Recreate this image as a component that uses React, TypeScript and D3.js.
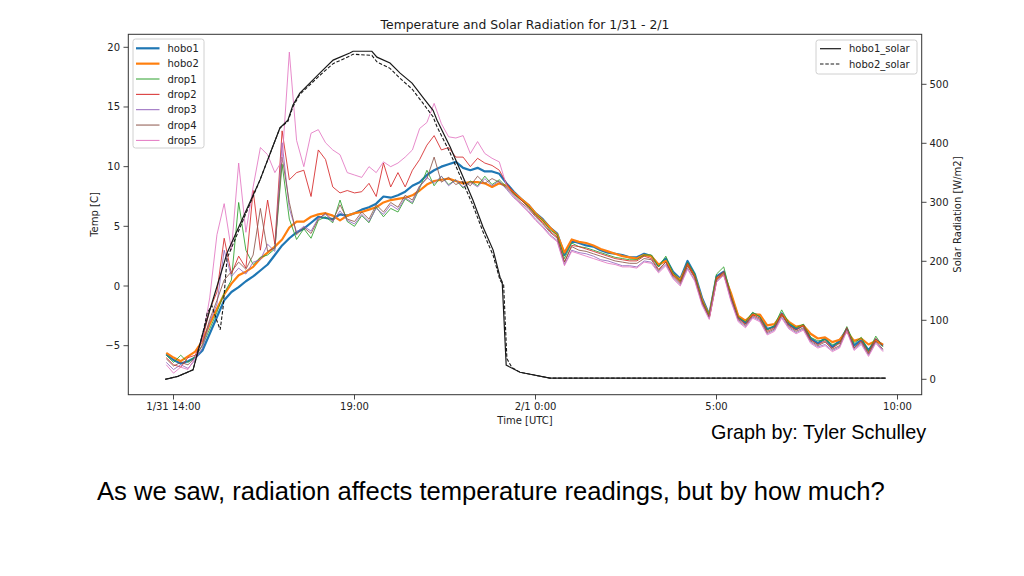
import React, { useEffect } from 'react';
import * as d3 from 'd3';

// ---- data ----
// sample times in hours since 1/31 00:00 UTC
const times = [
  13.8, 14.0, 14.2, 14.4, 14.6, 14.8, 15.0, 15.2, 15.4, 15.6, 15.8, 16.0, 16.2, 16.4, 16.6, 16.8, 17.0, 17.2, 17.4, 17.6,
  17.8, 18.0, 18.2, 18.4, 18.6, 18.8, 19.0, 19.2, 19.4, 19.6, 19.8, 20.0, 20.2, 20.4, 20.6, 20.8, 21.0, 21.2, 21.4, 21.6,
  21.8, 22.0, 22.2, 22.4, 22.6, 22.8, 23.0, 23.2, 23.4, 23.6, 23.8, 24.0, 24.2, 24.4, 24.6, 24.8, 25.0, 25.2, 25.4, 25.6,
  25.8, 26.0, 26.2, 26.4, 26.6, 26.8, 27.0, 27.2, 27.4, 27.6, 27.8, 28.0, 28.2, 28.4, 28.6, 28.8, 29.0, 29.2, 29.4, 29.6,
  29.8, 30.0, 30.2, 30.4, 30.6, 30.8, 31.0, 31.2, 31.4, 31.6, 31.8, 32.0, 32.2, 32.4, 32.6, 32.8, 33.0, 33.2, 33.4, 33.6,
];

const hobo1 = [
  -5.7, -6.2, -6.5, -6.3, -6.0, -5.4, -4.0, -2.6, -1.2, -0.5, -0.1, 0.4, 0.8, 1.3, 1.8, 2.6, 3.4, 4.0, 4.5, 4.8,
  5.3, 5.8, 5.7, 5.6, 6.0, 5.9, 6.1, 6.4, 6.6, 6.9, 7.5, 7.4, 7.6, 7.9, 8.4, 8.7, 9.3, 9.7, 10.0, 10.2,
  10.4, 9.9, 9.7, 9.9, 9.6, 9.6, 9.4, 8.6, 7.9, 7.3, 6.8, 6.1, 5.6, 4.9, 4.4, 2.6, 3.8, 3.6, 3.4, 3.3,
  3.0, 2.8, 2.7, 2.6, 2.4, 2.4, 2.7, 2.5, 1.7, 2.3, 1.2, 0.6, 2.1, 1.0, -1.0, -2.4, 0.8, 1.2, -0.8, -2.6,
  -3.1, -2.3, -2.5, -3.6, -3.4, -2.3, -3.2, -3.6, -3.3, -4.4, -4.8, -4.4, -5.1, -4.6, -3.6, -5.0, -4.5, -5.4, -4.5, -5.0,
];

const hobo2 = [
  -5.6, -6.0, -6.3, -5.9, -5.5, -4.6, -3.2, -1.9, -0.7, 0.2, 0.9, 1.2, 1.6, 2.3, 2.8, 3.3, 3.9, 4.9, 5.4, 5.4,
  5.8, 6.0, 6.1, 5.9, 5.5, 5.9, 6.1, 6.2, 6.4, 6.6, 7.0, 7.2, 7.3, 7.4, 7.6, 8.0, 8.5, 8.8, 8.9, 9.0,
  8.8, 8.6, 8.7, 8.7, 8.6, 8.3, 8.6, 8.4, 7.8, 7.3, 6.8, 6.1, 5.5, 4.9, 4.3, 2.8, 3.9, 3.7, 3.6, 3.4,
  3.1, 2.9, 2.7, 2.5, 2.4, 2.3, 2.6, 2.5, 1.8, 2.1, 1.0, 0.5, 1.8, 0.8, -1.2, -2.5, 0.6, 1.0, -0.6, -2.5,
  -2.9, -2.4, -2.4, -3.3, -3.2, -2.4, -3.0, -3.4, -3.3, -4.0, -4.4, -4.3, -4.7, -4.5, -3.8, -4.6, -4.4, -4.9, -4.6, -4.9,
];

const drop1 = [
  -5.8, -6.4, -5.8, -6.4, -5.9, -5.0, -3.6, -2.2, -0.6, 0.5, 7.0, 3.0, 1.8, 2.4, 2.6, 3.1, 10.2, 5.6, 3.9, 4.8,
  4.0, 5.5, 5.8, 5.3, 7.2, 5.4, 5.0, 5.9, 5.3, 6.6, 5.8, 6.5, 6.2, 7.3, 6.9, 8.2, 9.7, 8.4, 9.2, 8.5,
  8.9, 8.2, 8.8, 8.4, 9.2, 8.5, 8.9, 8.3, 7.7, 7.2, 6.7, 6.0, 5.5, 4.7, 4.3, 2.3, 3.6, 3.3, 3.2, 3.0,
  2.8, 2.6, 2.4, 2.3, 2.2, 2.2, 2.6, 2.6, 1.6, 2.5, 1.1, 0.4, 2.0, 1.0, -1.2, -2.4, 1.0, 1.6, -0.8, -2.6,
  -3.0, -2.2, -2.6, -3.7, -3.3, -2.0, -3.1, -3.5, -3.2, -4.3, -4.6, -4.5, -4.9, -4.8, -3.4, -4.8, -4.3, -5.5, -4.2, -5.1,
];

const drop2 = [
  -6.0, -6.6, -6.8, -6.0, -5.8, -4.5, -2.0, -0.5, 4.0, 1.0, 2.5, 1.5, 8.0, 3.0, 7.2, 3.5, 13.0, 8.9, 9.5, 9.7,
  7.5, 11.4, 10.6, 8.3, 7.8, 8.0, 7.8, 7.9, 8.6, 7.5, 10.3, 8.3, 9.5, 8.3, 9.7, 10.6, 11.8, 12.6, 11.4, 11.6,
  10.8, 10.8, 10.0, 10.7, 10.3, 10.1, 9.7, 8.6, 7.8, 7.2, 6.6, 5.9, 5.3, 4.6, 4.1, 2.0, 3.4, 3.3, 3.1, 2.9,
  2.7, 2.5, 2.3, 2.2, 2.1, 2.1, 2.5, 2.3, 1.4, 2.0, 0.9, 0.3, 1.9, 0.8, -1.3, -2.6, 0.7, 1.2, -0.9, -2.7,
  -3.2, -2.4, -2.7, -3.8, -3.5, -2.3, -3.3, -3.7, -3.3, -4.5, -4.9, -4.6, -5.2, -4.8, -3.5, -5.2, -4.6, -5.6, -4.4, -5.0,
];

const drop3 = [
  -6.4, -7.0, -6.6, -6.9, -6.2, -5.2, -3.0, -1.5, 3.0, 0.8, 1.5, 1.0, 2.0, 2.2, 3.5, 2.9, 12.0, 6.5, 4.5, 5.0,
  4.6, 5.7, 6.0, 5.4, 6.3, 5.5, 5.2, 6.0, 5.4, 6.5, 6.0, 6.8, 6.4, 7.4, 7.0, 8.3, 9.1, 8.6, 9.2, 8.4,
  8.9, 8.3, 8.7, 8.3, 9.0, 8.4, 8.8, 8.1, 7.4, 6.9, 6.3, 5.6, 5.0, 4.3, 3.8, 1.8, 3.0, 2.8, 2.7, 2.5,
  2.2, 2.1, 1.9, 1.7, 1.7, 1.6, 2.1, 2.0, 1.2, 1.8, 0.7, 0.1, 1.5, 0.5, -1.5, -2.7, 0.4, 1.0, -1.2, -2.9,
  -3.4, -2.6, -2.9, -4.0, -3.7, -2.6, -3.5, -3.9, -3.6, -4.7, -5.1, -4.9, -5.4, -5.1, -3.7, -5.3, -4.8, -5.8, -4.7, -5.4,
];

const drop4 = [
  -6.1, -6.7, -6.4, -6.6, -6.0, -4.9, -2.8, -1.2, 0.5, 1.2, 2.0, 1.4, 2.6, 6.5, 2.9, 3.2, 10.8, 7.0, 4.3, 4.9,
  4.4, 5.6, 6.1, 5.5, 6.8, 5.6, 5.4, 6.2, 5.6, 6.8, 6.2, 7.0, 6.6, 7.6, 7.2, 8.4, 9.0, 10.8, 8.7, 9.1,
  8.5, 8.8, 8.4, 9.2, 8.6, 9.0, 8.7, 8.2, 7.6, 7.0, 6.5, 5.8, 5.2, 4.5, 4.0, 2.0, 3.3, 3.0, 2.9, 2.7,
  2.5, 2.3, 2.1, 2.0, 1.9, 1.9, 2.3, 2.2, 1.3, 2.0, 0.8, 0.2, 1.7, 0.7, -1.4, -2.6, 0.5, 1.2, -1.0, -2.8,
  -3.3, -2.5, -2.8, -3.9, -3.6, -2.4, -3.4, -3.8, -3.5, -4.6, -5.0, -4.7, -5.3, -5.0, -3.5, -5.2, -4.7, -5.7, -4.6, -5.3,
];

const drop5 = [
  -6.6, -7.3, -6.8, -7.0, -6.0, -4.5, -1.0, 4.3, 6.9, 3.0, 10.3, 4.5, 8.3, 11.6, 11.0, 9.5, 10.5, 19.6, 12.2, 10.0,
  12.8, 13.1, 12.0, 11.4, 11.0, 9.5, 9.3, 9.1, 10.0, 9.5, 10.4, 10.0, 10.3, 10.8, 11.4, 13.2, 13.7, 15.3, 13.6, 12.5,
  12.4, 12.6, 11.1, 12.1, 11.1, 10.7, 10.4, 8.4, 7.5, 6.8, 6.2, 5.5, 4.9, 4.2, 3.7, 1.7, 2.9, 2.7, 2.5, 2.3,
  2.1, 1.9, 1.8, 1.6, 1.6, 1.5, 2.0, 1.9, 1.1, 1.7, 0.6, 0.0, 1.4, 0.4, -1.6, -2.8, 0.3, 0.9, -1.3, -3.0,
  -3.5, -2.7, -3.0, -4.1, -3.8, -2.7, -3.6, -4.0, -3.7, -4.8, -5.2, -5.0, -5.5, -5.2, -3.8, -5.4, -4.9, -5.9, -4.8, -5.5,
];

const solarTimes1 = [
  13.77, 14.12, 14.54, 14.81, 15.48, 16.39, 16.94, 17.16, 17.3, 17.49, 18.04, 18.41, 18.87, 18.96, 19.48, 19.62,
  19.98, 20.26, 20.59, 20.89, 21.17, 21.28, 21.64, 22.0, 22.27, 22.55, 22.83, 23.02, 23.08, 23.19, 23.57, 24.4, 33.68,
];
const hobo1Solar = [
  0, 5, 16, 78, 214, 338, 426, 439, 465, 485, 519, 541, 553, 556, 556, 546,
  536, 519, 502, 478, 456, 439, 394, 343, 304, 258, 219, 173, 165, 24, 12, 2, 2,
];

const solarTimes2 = [
  13.77, 14.12, 14.54, 14.81, 14.93, 15.06, 15.17, 15.29, 15.37, 15.48, 16.39, 16.94, 17.16, 17.3, 17.49, 18.04,
  18.41, 18.87, 18.96, 19.48, 19.62, 19.98, 20.26, 20.59, 20.89, 21.17, 21.28, 21.64, 22.0, 22.27, 22.55, 22.83,
  23.02, 23.12, 23.21, 23.35, 23.57, 24.4, 33.68,
];
const hobo2Solar = [
  0, 5, 16, 78, 112, 125, 104, 84, 122, 205, 338, 426, 437, 462, 483, 515,
  535, 548, 551, 549, 538, 527, 510, 492, 468, 445, 428, 384, 333, 295, 250, 210,
  168, 160, 35, 20, 12, 2, 2,
];

const seriesNames = ['hobo1', 'hobo2', 'drop1', 'drop2', 'drop3', 'drop4', 'drop5'];
const seriesValues = [hobo1, hobo2, drop1, drop2, drop3, drop4, drop5];
const seriesColors = ['#1f77b4', '#ff7f0e', '#2ca02c', '#d62728', '#9467bd', '#8c564b', '#e377c2'];
const seriesWidths = [2.2, 2.2, 1, 1, 1, 1, 1];

const xTickHours = [14, 19, 24, 29, 34];
const xTickLabels = ['1/31 14:00', '19:00', '2/1 0:00', '5:00', '10:00'];
const tempTicks = [-5, 0, 5, 10, 15, 20];
const solarTicks = [0, 100, 200, 300, 400, 500];

const TITLE = 'Temperature and Solar Radiation for 1/31 - 2/1';
const CAPTION = 'As we saw, radiation affects temperature readings, but by how much?';
const CREDIT = 'Graph by: Tyler Schulley';

// ---- layout ----
const W = 1024;
const H = 576;
const PL = 128.3;
const PR = 921.7;
const PT = 34.3;
const PB = 394.7;
const FONT = 'DejaVu Sans, sans-serif';
const SLIDE_FONT = 'Liberation Sans, Arial, sans-serif';

export default function App() {
  useEffect(() => {
    document.body.style.margin = '0';
  }, []);

  const x = d3.scaleLinear().domain([14, 34]).range([173.5, 897.5]);
  const yT = d3.scaleLinear().domain([0, 20]).range([286, 47.3]);
  const yS = d3.scaleLinear().domain([0, 500]).range([379.3, 84.3]);

  const tempLine = (vals: number[]) =>
    d3
      .line<number>()
      .x((_, i) => x(times[i]))
      .y((d) => yT(d))(vals) || '';

  const solarLine = (ts: number[], vals: number[]) =>
    d3
      .line<number>()
      .x((_, i) => x(ts[i]))
      .y((d) => yS(d))(vals) || '';

  const tick = 4.8;

  return (
    <svg width={W} height={H} style={{ position: 'absolute', left: 0, top: 0, background: '#fff' }}>
      <rect x={0} y={0} width={W} height={H} fill="#fff" />
      <defs>
        <clipPath id="plotclip">
          <rect x={PL} y={PT} width={PR - PL} height={PB - PT} />
        </clipPath>
      </defs>

      {/* title */}
      <text x={(PL + PR) / 2} y={29} textAnchor="middle" fontFamily={FONT} fontSize={12.4} fill="#1a1a1a">
        {TITLE}
      </text>

      {/* temperature lines */}
      <g clipPath="url(#plotclip)">
        {seriesValues.map((vals, k) => (
          <path
            key={seriesNames[k]}
            d={tempLine(vals)}
            fill="none"
            stroke={seriesColors[k]}
            strokeWidth={seriesWidths[k]}
            strokeOpacity={k < 2 ? 1 : 0.85}
            strokeLinejoin="round"
          />
        ))}
        {/* solar lines */}
        <path d={solarLine(solarTimes1, hobo1Solar)} fill="none" stroke="#1a1a1a" strokeWidth={1.2} />
        <path
          d={solarLine(solarTimes2, hobo2Solar)}
          fill="none"
          stroke="#1a1a1a"
          strokeWidth={1.1}
          strokeDasharray="3.5,1.8"
        />
      </g>

      {/* frame */}
      <rect x={PL} y={PT} width={PR - PL} height={PB - PT} fill="none" stroke="#333" strokeWidth={1} />

      {/* left axis */}
      {tempTicks.map((t) => (
        <g key={'t' + t}>
          <line x1={PL - tick} x2={PL} y1={yT(t)} y2={yT(t)} stroke="#333" strokeWidth={0.9} />
          <text x={PL - tick - 3.5} y={yT(t)} dy="0.35em" textAnchor="end" fontFamily={FONT} fontSize={10} fill="#222">
            {t < 0 ? '\u2212' + Math.abs(t) : String(t)}
          </text>
        </g>
      ))}
      <text
        transform={`translate(97.5, ${(PT + PB) / 2}) rotate(-90)`}
        textAnchor="middle"
        fontFamily={FONT}
        fontSize={10}
        fill="#222"
      >
        Temp [C]
      </text>

      {/* right axis */}
      {solarTicks.map((s) => (
        <g key={'s' + s}>
          <line x1={PR} x2={PR + tick} y1={yS(s)} y2={yS(s)} stroke="#333" strokeWidth={0.9} />
          <text x={PR + tick + 3} y={yS(s)} dy="0.35em" textAnchor="start" fontFamily={FONT} fontSize={10} fill="#222">
            {s}
          </text>
        </g>
      ))}
      <text
        transform={`translate(961, ${(PT + PB) / 2}) rotate(-90)`}
        textAnchor="middle"
        fontFamily={FONT}
        fontSize={10}
        fill="#222"
      >
        Solar Radiation [W/m2]
      </text>

      {/* bottom axis */}
      {xTickHours.map((h, i) => (
        <g key={'x' + h}>
          <line x1={x(h)} x2={x(h)} y1={PB} y2={PB + tick} stroke="#333" strokeWidth={0.9} />
          <text x={x(h)} y={410} textAnchor="middle" fontFamily={FONT} fontSize={10} fill="#222">
            {xTickLabels[i]}
          </text>
        </g>
      ))}
      <text x={(PL + PR) / 2} y={424} textAnchor="middle" fontFamily={FONT} fontSize={10} fill="#222">
        Time [UTC]
      </text>

      {/* left legend */}
      <rect x={133} y={39} width={71} height={109} rx={2.5} fill="#fff" fillOpacity={0.85} stroke="#d0d0d0" strokeWidth={1} />
      {seriesNames.map((n, k) => {
        const ly = 48.3 + k * 15.35;
        return (
          <g key={'lg' + n}>
            <line x1={136} x2={159.5} y1={ly} y2={ly} stroke={seriesColors[k]} strokeWidth={seriesWidths[k]} />
            <text x={167.5} y={ly} dy="0.35em" fontFamily={FONT} fontSize={10} fill="#222">
              {n}
            </text>
          </g>
        );
      })}

      {/* right legend */}
      <rect x={816} y={40} width={101} height={34} rx={2.5} fill="#fff" fillOpacity={0.85} stroke="#d0d0d0" strokeWidth={1} />
      <line x1={820} x2={841} y1={48.7} y2={48.7} stroke="#1a1a1a" strokeWidth={1.2} />
      <text x={849} y={48.7} dy="0.35em" fontFamily={FONT} fontSize={10} fill="#222">
        hobo1_solar
      </text>
      <line x1={820} x2={841} y1={64} y2={64} stroke="#1a1a1a" strokeWidth={1.1} strokeDasharray="3.5,1.8" />
      <text x={849} y={64} dy="0.35em" fontFamily={FONT} fontSize={10} fill="#222">
        hobo2_solar
      </text>

      {/* slide text */}
      <text x={711} y={439} fontFamily={SLIDE_FONT} fontSize={19.8} fill="#000">
        {CREDIT}
      </text>
      <text x={97} y={500} fontFamily={SLIDE_FONT} fontSize={25.6} fill="#000">
        {CAPTION}
      </text>
    </svg>
  );
}
